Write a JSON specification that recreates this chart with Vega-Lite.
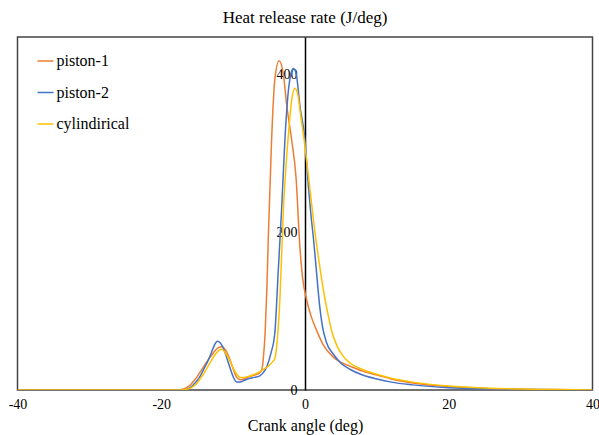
{
  "$schema": "https://vega.github.io/schema/vega-lite/v6.json",
  "autosize": {"type": "none"},
  "width": 575,
  "height": 353,
  "padding": {"left": 17.5, "top": 37, "right": 6.5, "bottom": 45},
  "background": "white",
  "title": {"text": "Heat release rate (J/deg)", "font": "Liberation Serif", "fontSize": 17, "fontWeight": "normal", "color": "black", "offset": 10, "anchor": "middle"},
  "config": {
    "font": "Liberation Serif",
    "view": {"stroke": "#444", "strokeWidth": 1.5},
    "axis": {"labelFont": "Liberation Serif, serif", "labelFontSize": 14, "labelColor": "black", "titleFont": "Liberation Serif"},
    "legend": {"labelFont": "Liberation Serif, serif"}
  },
  "datasets": {
    "hrr": [
      {"s":"piston-1","x":-40,"y":0},{"s":"piston-1","x":-30,"y":0},{"s":"piston-1","x":-20,"y":0},{"s":"piston-1","x":-17.8,"y":0},{"s":"piston-1","x":-17,"y":1},{"s":"piston-1","x":-16.5,"y":3},{"s":"piston-1","x":-16,"y":6},{"s":"piston-1","x":-15.5,"y":11},{"s":"piston-1","x":-15,"y":17},{"s":"piston-1","x":-14.5,"y":24},{"s":"piston-1","x":-14,"y":31},{"s":"piston-1","x":-13.5,"y":38},{"s":"piston-1","x":-13,"y":44},{"s":"piston-1","x":-12.5,"y":50},{"s":"piston-1","x":-12,"y":54},{"s":"piston-1","x":-11.6,"y":55},{"s":"piston-1","x":-11,"y":50},{"s":"piston-1","x":-10.5,"y":40},{"s":"piston-1","x":-10,"y":27},{"s":"piston-1","x":-9.5,"y":16},{"s":"piston-1","x":-9,"y":13},{"s":"piston-1","x":-8.5,"y":14},{"s":"piston-1","x":-8,"y":16},{"s":"piston-1","x":-7,"y":19},{"s":"piston-1","x":-6.3,"y":22},{"s":"piston-1","x":-6,"y":26},{"s":"piston-1","x":-5.8,"y":40},{"s":"piston-1","x":-5.55,"y":72},{"s":"piston-1","x":-5.3,"y":130},{"s":"piston-1","x":-5.1,"y":195},{"s":"piston-1","x":-4.65,"y":317},{"s":"piston-1","x":-4.2,"y":394},{"s":"piston-1","x":-3.6,"y":418},{"s":"piston-1","x":-3.0,"y":400},{"s":"piston-1","x":-2.55,"y":362},{"s":"piston-1","x":-1.85,"y":317},{"s":"piston-1","x":-1.25,"y":270},{"s":"piston-1","x":-0.7,"y":180},{"s":"piston-1","x":-0.3,"y":140},{"s":"piston-1","x":0.14,"y":118},{"s":"piston-1","x":0.8,"y":95},{"s":"piston-1","x":1.6,"y":76},{"s":"piston-1","x":2.5,"y":58},{"s":"piston-1","x":3.9,"y":42},{"s":"piston-1","x":5,"y":35},{"s":"piston-1","x":6.3,"y":30},{"s":"piston-1","x":8,"y":24},{"s":"piston-1","x":10,"y":19},{"s":"piston-1","x":12,"y":14},{"s":"piston-1","x":15,"y":9},{"s":"piston-1","x":20,"y":4.5},{"s":"piston-1","x":25,"y":2},{"s":"piston-1","x":30,"y":1},{"s":"piston-1","x":35,"y":0.5},{"s":"piston-1","x":40,"y":0},

      {"s":"piston-2","x":-40,"y":0},{"s":"piston-2","x":-20,"y":0},{"s":"piston-2","x":-17,"y":0},{"s":"piston-2","x":-16.5,"y":1},{"s":"piston-2","x":-16,"y":3},{"s":"piston-2","x":-15.5,"y":7},{"s":"piston-2","x":-15,"y":12},{"s":"piston-2","x":-14.5,"y":19},{"s":"piston-2","x":-14,"y":28},{"s":"piston-2","x":-13.5,"y":37},{"s":"piston-2","x":-13,"y":48},{"s":"piston-2","x":-12.6,"y":57},{"s":"piston-2","x":-12.2,"y":62},{"s":"piston-2","x":-11.8,"y":60},{"s":"piston-2","x":-11.4,"y":54},{"s":"piston-2","x":-11,"y":44},{"s":"piston-2","x":-10.5,"y":30},{"s":"piston-2","x":-10,"y":17},{"s":"piston-2","x":-9.5,"y":10},{"s":"piston-2","x":-9,"y":10},{"s":"piston-2","x":-8.5,"y":12},{"s":"piston-2","x":-8,"y":14},{"s":"piston-2","x":-7,"y":16},{"s":"piston-2","x":-6.3,"y":18},{"s":"piston-2","x":-5.8,"y":22},{"s":"piston-2","x":-5.3,"y":30},{"s":"piston-2","x":-4.7,"y":48},{"s":"piston-2","x":-4.2,"y":72},{"s":"piston-2","x":-3.7,"y":155},{"s":"piston-2","x":-3.25,"y":230},{"s":"piston-2","x":-2.8,"y":317},{"s":"piston-2","x":-2.3,"y":381},{"s":"piston-2","x":-1.9,"y":403},{"s":"piston-2","x":-1.6,"y":408},{"s":"piston-2","x":-1.2,"y":400},{"s":"piston-2","x":-0.7,"y":360},{"s":"piston-2","x":0,"y":317},{"s":"piston-2","x":0.46,"y":260},{"s":"piston-2","x":0.8,"y":225},{"s":"piston-2","x":1.2,"y":190},{"s":"piston-2","x":1.6,"y":150},{"s":"piston-2","x":2.0,"y":110},{"s":"piston-2","x":2.4,"y":82},{"s":"piston-2","x":3.0,"y":60},{"s":"piston-2","x":3.9,"y":46},{"s":"piston-2","x":5,"y":34},{"s":"piston-2","x":6.3,"y":26},{"s":"piston-2","x":8,"y":19},{"s":"piston-2","x":10,"y":14},{"s":"piston-2","x":12,"y":10},{"s":"piston-2","x":15,"y":6.5},{"s":"piston-2","x":20,"y":3},{"s":"piston-2","x":25,"y":1.5},{"s":"piston-2","x":30,"y":0.7},{"s":"piston-2","x":35,"y":0.3},{"s":"piston-2","x":40,"y":0},

      {"s":"cylindirical","x":-40,"y":0},{"s":"cylindirical","x":-20,"y":0},{"s":"cylindirical","x":-17,"y":0},{"s":"cylindirical","x":-16.5,"y":1},{"s":"cylindirical","x":-16,"y":2},{"s":"cylindirical","x":-15.5,"y":5},{"s":"cylindirical","x":-15,"y":9},{"s":"cylindirical","x":-14.5,"y":15},{"s":"cylindirical","x":-14,"y":22},{"s":"cylindirical","x":-13.5,"y":30},{"s":"cylindirical","x":-13,"y":38},{"s":"cylindirical","x":-12.5,"y":45},{"s":"cylindirical","x":-12,"y":50},{"s":"cylindirical","x":-11.7,"y":51.7},{"s":"cylindirical","x":-11.3,"y":50},{"s":"cylindirical","x":-11,"y":46},{"s":"cylindirical","x":-10.5,"y":38},{"s":"cylindirical","x":-10,"y":28},{"s":"cylindirical","x":-9.5,"y":20},{"s":"cylindirical","x":-9,"y":16},{"s":"cylindirical","x":-8.5,"y":16},{"s":"cylindirical","x":-8,"y":17},{"s":"cylindirical","x":-7,"y":20},{"s":"cylindirical","x":-6.3,"y":23},{"s":"cylindirical","x":-5.8,"y":26},{"s":"cylindirical","x":-5,"y":31},{"s":"cylindirical","x":-4.5,"y":36},{"s":"cylindirical","x":-4.2,"y":40},{"s":"cylindirical","x":-3.8,"y":70},{"s":"cylindirical","x":-3.5,"y":114},{"s":"cylindirical","x":-3.0,"y":230},{"s":"cylindirical","x":-2.6,"y":290},{"s":"cylindirical","x":-2.3,"y":325},{"s":"cylindirical","x":-1.85,"y":368},{"s":"cylindirical","x":-1.4,"y":383},{"s":"cylindirical","x":-1.0,"y":375},{"s":"cylindirical","x":-0.7,"y":355},{"s":"cylindirical","x":0,"y":309},{"s":"cylindirical","x":0.7,"y":254},{"s":"cylindirical","x":1.4,"y":199},{"s":"cylindirical","x":2.0,"y":160},{"s":"cylindirical","x":2.6,"y":125},{"s":"cylindirical","x":3.2,"y":96},{"s":"cylindirical","x":3.8,"y":72},{"s":"cylindirical","x":4.5,"y":55},{"s":"cylindirical","x":5.3,"y":43},{"s":"cylindirical","x":6.3,"y":34},{"s":"cylindirical","x":8,"y":26},{"s":"cylindirical","x":10,"y":20},{"s":"cylindirical","x":12,"y":15},{"s":"cylindirical","x":15,"y":10},{"s":"cylindirical","x":20,"y":5},{"s":"cylindirical","x":25,"y":2.5},{"s":"cylindirical","x":30,"y":1.2},{"s":"cylindirical","x":35,"y":0.5},{"s":"cylindirical","x":40,"y":0}
    ]
  },
  "data": {"name": "hrr"},
  "mark": {"type": "line", "interpolate": "monotone", "strokeWidth": 1.5, "clip": true},
  "encoding": {
    "x": {
      "field": "x", "type": "quantitative",
      "scale": {"domain": [-40, 40], "nice": false, "zero": false},
      "axis": {
        "values": [-40, -20, 0, 20, 40], "ticks": false, "grid": false, "domain": false,
        "labelFlush": false, "labelOverlap": false,
        "labelExpr": "'' + datum.value",
        "labelFont": "Liberation Serif, serif", "labelFontSize": 14, "labelColor": "black", "labelPadding": 7,
        "title": "Crank angle (deg)", "titleFont": "Liberation Serif", "titleFontSize": 16, "titleFontWeight": "normal", "titleColor": "black", "titlePadding": 6
      }
    },
    "y": {
      "field": "y", "type": "quantitative",
      "scale": {"domain": [0, 448], "nice": false},
      "axis": {
        "values": [0, 200, 400], "ticks": false, "grid": false, "offset": -287.5,
        "labelFlush": false,
        "domainColor": "black", "domainWidth": 1.5,
        "labelExpr": "'' + datum.value",
        "labelFont": "Liberation Serif, serif", "labelFontSize": 14, "labelColor": "black", "labelPadding": 8,
        "title": null
      }
    },
    "color": {
      "field": "s", "type": "nominal",
      "scale": {"domain": ["piston-1", "piston-2", "cylindirical"], "range": ["#ED7D31", "#4472C4", "#FFC000"]},
      "legend": {
        "title": null, "orient": "none", "legendX": 19, "legendY": 15,
        "symbolType": "stroke", "symbolSize": 256, "symbolStrokeWidth": 1.5,
        "labelFont": "Liberation Serif, serif", "labelFontSize": 16, "labelColor": "black", "labelOffset": 2,
        "rowPadding": 14.5
      }
    }
  }
}
